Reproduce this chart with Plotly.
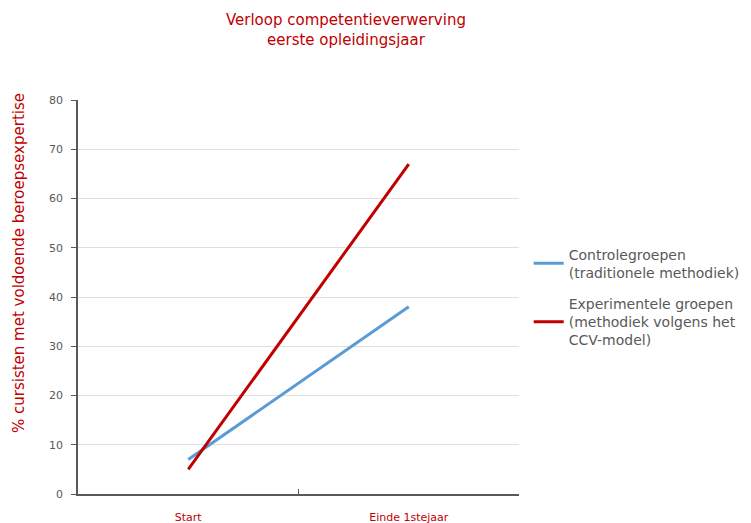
import plotly.graph_objects as go

categories = ["Start", "Einde 1stejaar"]
controle = [7, 38]
experimenteel = [5, 67]
name_controle = "Controlegroepen<br>(traditionele methodiek)"
name_exp = "Experimentele groepen<br>(methodiek volgens het<br>CCV-model)"
y_title = "% cursisten met voldoende beroepsexpertise"
chart_title = "Verloop competentieverwerving<br>eerste opleidingsjaar"

RED = "#c00000"
BLUE = "#5b9bd5"
FONT = "DejaVu Sans"

fig = go.Figure()
fig.add_trace(go.Scatter(x=categories, y=controle, mode="lines", name=name_controle,
                         legendgroup="a", line=dict(color=BLUE, width=3)))
fig.add_trace(go.Scatter(x=categories, y=experimenteel, mode="lines", name=name_exp,
                         legendgroup="b", line=dict(color=RED, width=3)))

fig.add_annotation(text=y_title, textangle=-90, xref="paper", yref="paper",
                   x=-(77 - 18) / 441, y=(494 - 263) / 394, xanchor="center", yanchor="middle",
                   showarrow=False, font=dict(family=FONT, size=15, color=RED))

fig.update_layout(
    width=751, height=523,
    margin=dict(l=70, r=240, t=92, b=37, autoexpand=False),
    paper_bgcolor="white", plot_bgcolor="white",
    font=dict(family=FONT, color="#595959"),
    title=dict(text=chart_title,
               x=0.45, xanchor="center", y=0.967, yanchor="top",
               font=dict(family=FONT, size=15, color=RED)),
    legend=dict(x=1.022, xanchor="left", y=0.5, yanchor="middle",
                font=dict(family=FONT, size=14, color="#595959"),
                traceorder="grouped", tracegroupgap=10, itemwidth=30),
    xaxis=dict(type="category", showline=True, linecolor="#595959", linewidth=1.5,
               ticks="inside", ticklen=5, tickcolor="#595959", tickson="boundaries",
               showgrid=False, tickfont=dict(family=FONT, size=11, color=RED),
               ticklabelstandoff=12,
               range=[-0.5, 1.5], fixedrange=True, automargin=False),
    yaxis=dict(range=[0, 80], dtick=10, showline=True, linecolor="#595959", linewidth=1.5,
               ticks="outside", ticklen=5, tickcolor="#595959",
               showgrid=True, gridcolor="#e0e0e0", gridwidth=1,
               tickfont=dict(family=FONT, size=11, color="#595959"),
               ticklabelstandoff=6,
               zeroline=False, automargin=False),
)

fig.write_html("out.html")
